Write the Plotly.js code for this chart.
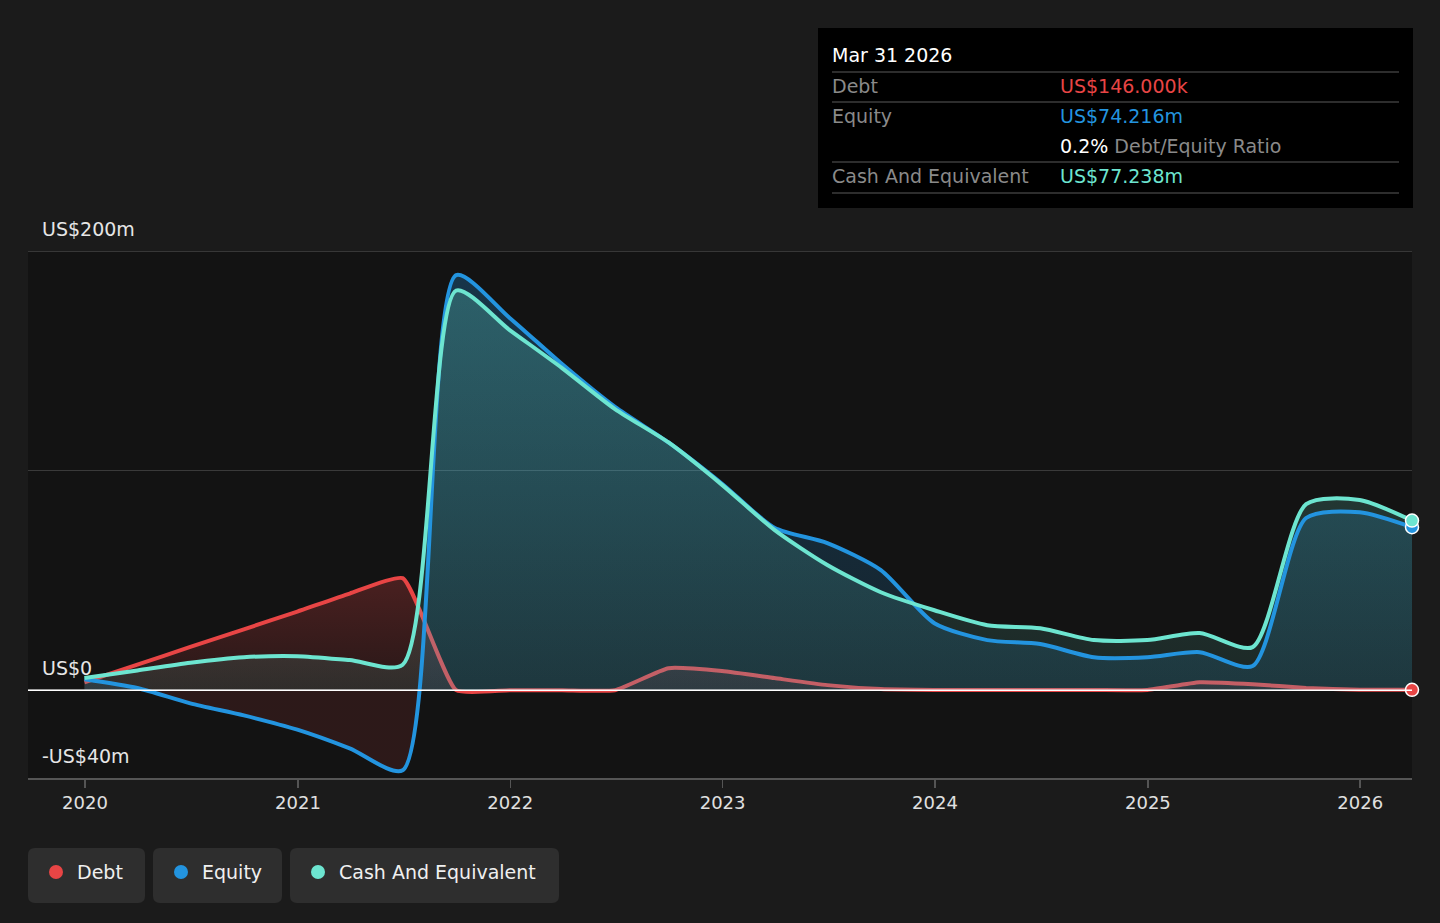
<!DOCTYPE html>
<html>
<head>
<meta charset="utf-8">
<script src="https://cdn.plot.ly/plotly-3.0.1.min.js"></script>
<style>
  html, body { margin: 0; padding: 0; background: #1b1b1b; }
  #chart { width: 1440px; height: 923px; }
</style>
</head>
<body>
<div id="chart"></div>
<script>
// quarterly balance sheet points, US$ millions
var dates = ['2019-12-31','2020-03-31','2020-06-30','2020-09-30','2020-12-31','2021-03-31','2021-06-30',
  '2021-09-30','2021-12-31','2022-03-31','2022-06-30','2022-09-30','2022-12-31','2023-03-31','2023-06-30',
  '2023-09-30','2023-12-31','2024-03-31','2024-06-30','2024-09-30','2024-12-31','2025-03-31','2025-06-30',
  '2025-09-30','2025-12-31','2026-03-31']
var debt = [3.6, 11.6, 19.7, 27.7, 35.8, 44, 51, 0, 0, 0, 0, 10, 8.7, 5.5, 2.3, 0.5, 0.1, 0.1, 0.1, 0.1, 0.1,
  3.6, 2.7, 1, 0.2, 0.146]
var equity = [5, 1, -6, -11.5, -18, -26.5, -36.5, 189, 169.5, 148.5, 129, 112.8, 94, 74, 67, 54.7, 30.5,
  22.8, 21, 15, 15, 17.3, 11, 78.4, 81, 74.216]
var cash = [5.5, 9, 12.5, 15, 15.5, 13.7, 11.6, 182, 164, 146.7, 128, 112.8, 93.5, 73, 57, 44.6, 36.4,
  29.6, 28.2, 22.8, 22.8, 26, 19.6, 84.7, 86.6, 77.238]
var yTicks = [200, 0, -40]
var yTickText = ['US$200m', 'US$0', '-US$40m']
var xTicks = ['2020','2021','2022','2023','2024','2025','2026']

var RED = '#e84545', BLUE = '#2394df', TEAL = '#6de5d0'
var FONT = 'DejaVu Sans, Verdana, sans-serif'

// plot area in pixels: x 28..1412, y 251..778
var L = 28, R = 1412, T = 251, B = 778
function px(x){ return (x - L) / (R - L) }
function py(y){ return (B - y) / (B - T) }

var line = {shape: 'spline', smoothing: 0.7, width: 4}

var traces = [
  {x: dates, y: debt, mode: 'lines', fill: 'tozeroy',
    line: {shape: 'spline', smoothing: 0.45, width: 4, color: RED},
    fillgradient: {type: 'vertical', start: 0, stop: 52,
      colorscale: [[0, 'rgba(232,69,69,0.10)'], [1, 'rgba(232,69,69,0.26)']]}},
  {x: dates, y: equity, mode: 'none', fill: 'tozeroy', line: line,
    fillgradient: {type: 'vertical', start: -40, stop: 200,
      colorscale: [[0, 'rgba(232,69,69,0.12)'], [0.1666, 'rgba(232,69,69,0.12)'],
        [0.1667, 'rgba(35,148,223,0.13)'], [1, 'rgba(35,148,223,0.27)']]}},
  {x: dates, y: cash, mode: 'none', fill: 'tozeroy', line: line,
    fillgradient: {type: 'vertical', start: 0, stop: 200,
      colorscale: [[0, 'rgba(109,229,208,0.10)'], [1, 'rgba(109,229,208,0.26)']]}},
  {x: dates, y: equity, mode: 'lines', line: Object.assign({}, line, {color: BLUE})},
  {x: dates, y: cash, mode: 'lines', line: Object.assign({}, line, {color: TEAL})}
]

// end markers
var last = dates.length - 1
;[[debt, RED], [equity, BLUE], [cash, TEAL]].forEach(function(s){
  traces.push({x: [dates[last]], y: [s[0][last]], mode: 'markers', cliponaxis: false,
    marker: {size: 13, color: s[1], line: {color: '#ffffff', width: 1.5}}})
})
traces.forEach(function(t){ t.hoverinfo = 'skip'; t.showlegend = false })

var annotations = yTicks.map(function(v, i){
  return {xref: 'paper', yref: 'y', x: px(40), y: v, xanchor: 'left', yanchor: 'bottom', yshift: 9,
    text: yTickText[i], showarrow: false, font: {family: FONT, size: 19, color: '#e6e6e6'}}
})

var shapes = [
  {type: 'line', xref: 'paper', yref: 'y', x0: 0, x1: 1, y0: 200, y1: 200, line: {color: '#444444', width: 1.5}},
  {type: 'line', xref: 'paper', yref: 'y', x0: 0, x1: 1, y0: 0, y1: 0, line: {color: '#ffffff', width: 1.5}}
]

// tooltip box
shapes.push({type: 'rect', xref: 'paper', yref: 'paper', x0: px(818), x1: px(1413), y0: py(208), y1: py(28),
  fillcolor: '#000000', line: {width: 0}, layer: 'above'})
;[72, 102, 162, 193].forEach(function(y){
  shapes.push({type: 'line', xref: 'paper', yref: 'paper', x0: px(832), x1: px(1399), y0: py(y), y1: py(y),
    line: {color: '#3d3d3d', width: 1.5}, layer: 'above'})
})
function tipText(x, y, text, color){
  annotations.push({xref: 'paper', yref: 'paper', x: px(x - 2), y: py(y), xanchor: 'left', yanchor: 'middle',
    text: text, showarrow: false, font: {family: FONT, size: 19, color: color}})
}
tipText(832, 55, 'Mar 31 2026', '#ffffff')
tipText(832, 86, 'Debt', '#8a8a8a')
tipText(1060, 86, 'US$146.000k', RED)
tipText(832, 116, 'Equity', '#8a8a8a')
tipText(1060, 116, 'US$74.216m', BLUE)
tipText(1060, 146, '<span style="color:#ffffff">0.2%</span> Debt/Equity Ratio', '#8a8a8a')
tipText(832, 176, 'Cash And Equivalent', '#8a8a8a')
tipText(1060, 176, 'US$77.238m', TEAL)

// legend pills
function pill(x0, x1, y0, y1, r){
  var X0 = px(x0), X1 = px(x1), Y0 = py(y1), Y1 = py(y0)
  var rx = r / (R - L), ry = r / (B - T)
  return 'M' + (X0 + rx) + ',' + Y0 + ' L' + (X1 - rx) + ',' + Y0 + ' Q' + X1 + ',' + Y0 + ' ' + X1 + ',' + (Y0 + ry) +
    ' L' + X1 + ',' + (Y1 - ry) + ' Q' + X1 + ',' + Y1 + ' ' + (X1 - rx) + ',' + Y1 +
    ' L' + (X0 + rx) + ',' + Y1 + ' Q' + X0 + ',' + Y1 + ' ' + X0 + ',' + (Y1 - ry) +
    ' L' + X0 + ',' + (Y0 + ry) + ' Q' + X0 + ',' + Y0 + ' ' + (X0 + rx) + ',' + Y0 + ' Z'
}
var legendItems = [['Debt', RED, 28, 145], ['Equity', BLUE, 153, 282], ['Cash And Equivalent', TEAL, 290, 559]]
legendItems.forEach(function(it){
  shapes.push({type: 'path', xref: 'paper', yref: 'paper', path: pill(it[2], it[3], 848, 903, 7),
    fillcolor: '#2e2e2e', line: {width: 0}})
  var cx = it[2] + 28
  shapes.push({type: 'circle', xref: 'paper', yref: 'paper', x0: px(cx - 7), x1: px(cx + 7),
    y0: py(879), y1: py(865), fillcolor: it[1], line: {width: 0}})
  annotations.push({xref: 'paper', yref: 'paper', x: px(cx + 19), y: py(872), xanchor: 'left', yanchor: 'middle',
    text: it[0], showarrow: false, font: {family: FONT, size: 19, color: '#f0f0f0'}})
})

var layout = {
  width: 1440, height: 923,
  paper_bgcolor: '#1b1b1b', plot_bgcolor: '#131313',
  margin: {l: L, r: 1440 - R, t: T, b: 923 - B},
  font: {family: FONT, color: '#e0e0e0'},
  xaxis: {type: 'date', range: ['2019-09-25', '2026-03-31'],
    tickvals: xTicks.map(function(y){ return y + '-01-01' }), ticktext: xTicks,
    showgrid: false, zeroline: false, showline: true, linecolor: '#555555', linewidth: 1.5,
    ticks: 'outside', ticklen: 8, tickcolor: '#555555', tickwidth: 1.5,
    tickfont: {family: FONT, size: 18, color: '#e0e0e0'}},
  yaxis: {range: [-40, 200], tickvals: [0, 100], showticklabels: false,
    showgrid: true, gridcolor: '#3a3a3a', gridwidth: 1.5, zeroline: false},
  shapes: shapes,
  annotations: annotations,
  hovermode: false
}

Plotly.newPlot('chart', traces, layout, {displayModeBar: false, staticPlot: true})
</script>
</body>
</html>
